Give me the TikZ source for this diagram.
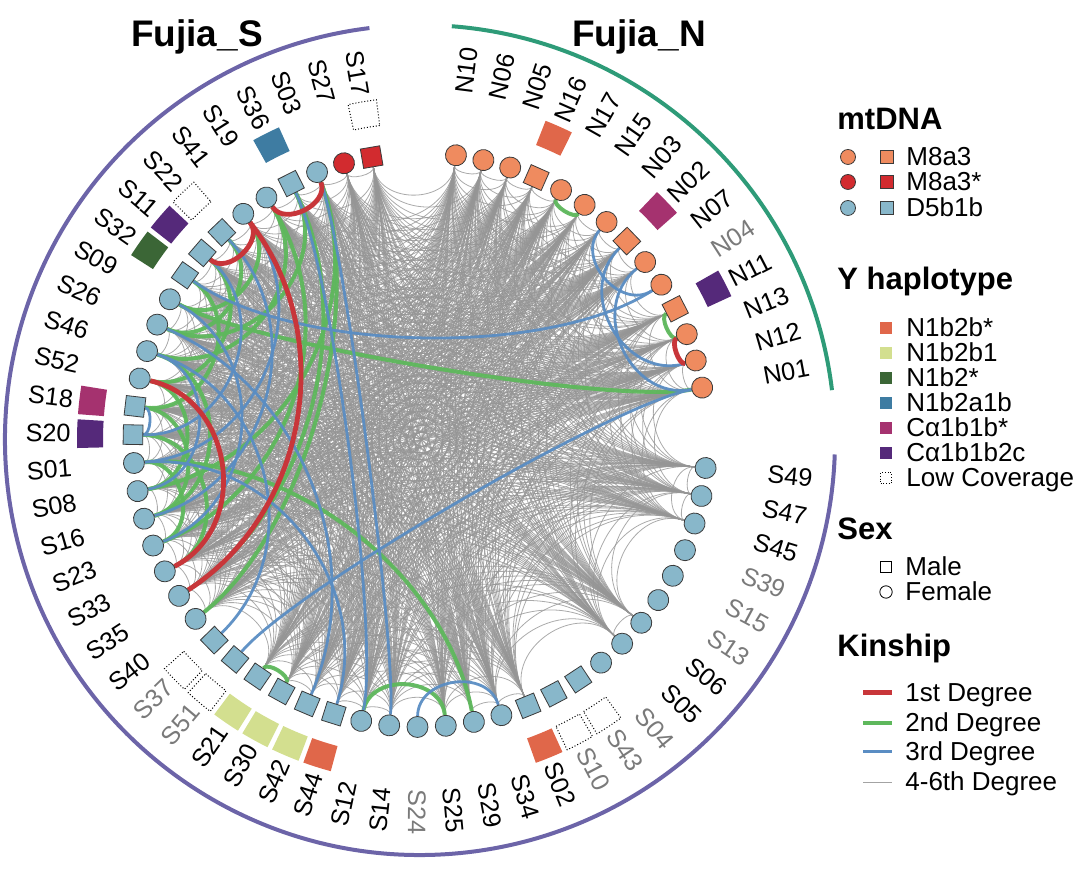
\documentclass[tikz,border=0pt]{standalone}
\usepackage{fontspec}
\setmainfont{Liberation Sans}
\usetikzlibrary{calc}
\pgfdeclarelayer{bgl}
\pgfdeclarelayer{midl}
\pgfsetlayers{bgl,midl,main}

\definecolor{cM}{HTML}{EF8B5F}
\definecolor{cMs}{HTML}{D22B2F}
\definecolor{cD}{HTML}{88B7CA}
\definecolor{yA}{HTML}{E0674A}
\definecolor{yB}{HTML}{D3DF8F}
\definecolor{yC}{HTML}{3B6636}
\definecolor{yD}{HTML}{3E7CA2}
\definecolor{yE}{HTML}{A5326F}
\definecolor{yF}{HTML}{55297A}
\definecolor{k1}{HTML}{C8363A}
\definecolor{k2}{HTML}{5EB85C}
\definecolor{k3}{HTML}{5A8DC3}
\definecolor{k4}{HTML}{A3A3A3}
\definecolor{kg}{HTML}{959595}
\definecolor{arcS}{HTML}{6C64A8}
\definecolor{arcN}{HTML}{2E9B78}
\definecolor{lblgray}{HTML}{7A7A7A}
\definecolor{outl}{HTML}{3A3A3A}

\tikzset{
  cnode/.style={circle, draw=outl, line width=0.4pt, minimum size=10.5pt, inner sep=0pt},
  snode/.style={rectangle, draw=outl, line width=0.4pt, minimum size=9.8pt, inner sep=0pt},
  lbl/.style={font=\fontsize{12.6}{14}\selectfont, inner sep=0pt},
  ttl/.style={font=\fontsize{15.5}{17}\selectfont\bfseries, inner sep=0pt},
  big/.style={font=\fontsize{18.5}{20}\selectfont\bfseries, inner sep=0pt},
  itm/.style={font=\fontsize{13}{15}\selectfont, inner sep=0pt},
  gedge/.style={draw=kg, line width=0.4pt, opacity=0.8},
  e1/.style={draw=k1, line width=2.4pt},
  e2/.style={draw=k2, line width=2pt, opacity=0.95},
  e3/.style={draw=k3, line width=1.4pt, opacity=0.95},
  lk1/.style={draw=k1, line width=2.5pt},
  lk2/.style={draw=k2, line width=2pt},
  lk3/.style={draw=k3, line width=1.5pt},
  lk4/.style={draw=k4, line width=0.4pt},
  lowcell/.style={draw=black, densely dotted, line width=0.5pt},
}

\def\ynone{none}
\def\ylow{low}

% #1,#2 node names, #3 style, #4 = 1 flatten long links, 0 = pure orthogonal arcs
\newcommand\kedge[4]{%
  \pgfmathsetmacro\kA{\csname kang#1\endcsname}%
  \pgfmathsetmacro\kB{\csname kang#2\endcsname}%
  \pgfmathsetmacro\kD{abs(\kA-\kB)}%
  \pgfmathsetmacro\kD{\kD>180 ? 360-\kD : \kD}%
  \pgfmathsetmacro\kT{tan((180-\kD)/4)}%
  \pgfmathsetmacro\kS{(\kD>90)&&(#4==1) ? max(0.4,1-0.6*(\kD-90)/60) : 1}%
  \pgfmathsetmacro\kR{287-191.3*(1-\kT*\kT)*\kS}%
  \draw[#3] (#1) .. controls (\kA:\kR) and (\kB:\kR) .. (#2);%
}

\begin{document}
\begin{tikzpicture}[x=0.5pt, y=0.5pt]
\useasboundingbox (-420,-430) rectangle (660,440);

% outer group arcs
\draw[arcS, line width=2pt] (97:415) arc[start angle=97, end angle=358, radius=415];
\draw[arcN, line width=2pt] (6.9:415) arc[start angle=6.9, end angle=85.6, radius=415];

% nodes, labels and Y cells
\foreach \nm/\slt/\shp/\fc/\gd/\yc [count=\j from 0] in {
N10/0/c/cM/1/none, N06/1/c/cM/1/none, N05/2/c/cM/1/none, N16/3/s/cM/1/yA,
N17/4/c/cM/1/none, N15/5/c/cM/1/none, N03/6/c/cM/1/none, N02/7/s/cM/1/yE,
N07/8/c/cM/1/none, N04/9/c/cM/0/none, N11/10/s/cM/1/yF, N13/11/c/cM/1/none,
N12/12/c/cM/1/none, N01/13/c/cM/1/none,
S49/16/c/cD/1/none, S47/17/c/cD/1/none, S45/18/c/cD/1/none, S39/19/c/cD/0/none,
S15/20/c/cD/0/none, S13/21/c/cD/0/none, S06/22/c/cD/1/none, S05/23/c/cD/1/none,
S04/24/c/cD/0/none, S43/25/s/cD/0/low, S10/26/s/cD/0/low, S02/27/s/cD/1/yA,
S34/28/c/cD/1/none, S29/29/c/cD/1/none, S25/30/c/cD/1/none, S24/31/c/cD/0/none,
S14/32/c/cD/1/none, S12/33/c/cD/1/none, S44/34/s/cD/1/yA, S42/35/s/cD/1/yB,
S30/36/s/cD/1/yB, S21/37/s/cD/1/yB, S51/38/s/cD/0/low, S37/39/s/cD/0/low,
S40/40/c/cD/1/none, S35/41/c/cD/1/none, S33/42/c/cD/1/none, S23/43/c/cD/1/none,
S16/44/c/cD/1/none, S08/45/c/cD/1/none, S01/46/c/cD/1/none, S20/47/s/cD/1/yF,
S18/48/s/cD/1/yE, S52/49/c/cD/1/none, S46/50/c/cD/1/none, S26/51/c/cD/1/none,
S09/52/c/cD/1/none, S32/53/s/cD/1/yC, S11/54/s/cD/1/yF, S22/55/s/cD/1/low,
S41/56/c/cD/1/none, S19/57/c/cD/1/none, S36/58/s/cD/1/yD, S03/59/c/cD/1/none,
S27/60/c/cMs/1/none, S17/61/s/cMs/1/low}{
  \pgfmathsetmacro\ang{\slt<14 ? 82.8-5.56*\slt : -5.6-5.66*(\slt-16)}
  \expandafter\xdef\csname kang\nm\endcsname{\ang}
  \expandafter\xdef\csname knm\j\endcsname{\nm}
  \expandafter\xdef\csname kgood\j\endcsname{\gd}
  \node[\shp node, fill=\fc, rotate=\ang] (\nm) at (\ang:287) {};
  \ifnum\gd=1 \def\lcol{black}\else \def\lcol{lblgray}\fi
  \pgfmathtruncatemacro\lft{\ang<-94 ? 1 : 0}
  \ifnum\lft=1
    \pgfmathsetmacro\kRot{\ang+180}
    \node[lbl, text=\lcol, rotate=\kRot, anchor=east] (L\nm) at (\ang:349) {\nm};
  \else
    \node[lbl, text=\lcol, rotate=\ang, anchor=west] (L\nm) at (\ang:349) {\nm};
  \fi
  \pgfmathsetmacro\cA{\ang-2.4}
  \pgfmathsetmacro\cB{\ang+2.4}
  \ifx\yc\ynone\else
    \ifx\yc\ylow
      \path[lowcell] (\cA:317) arc[start angle=\cA, end angle=\cB, radius=317] -- (\cB:343) arc[start angle=\cB, end angle=\cA, radius=343] -- cycle;
    \else
      \path[fill=\yc] (\cA:317) arc[start angle=\cA, end angle=\cB, radius=317] -- (\cB:343) arc[start angle=\cB, end angle=\cA, radius=343] -- cycle;
    \fi
  \fi
}

% 4-6th degree links
\begin{pgfonlayer}{bgl}
\pgfmathsetseed{2024}
\foreach \i in {0,...,58}{%
  \pgfmathtruncatemacro\jst{\i+1}%
  \foreach \j in {\jst,...,59}{%
    \ifnum\csname kgood\i\endcsname\csname kgood\j\endcsname=11
      \pgfmathtruncatemacro\kr{rnd<0.85 ? 1 : 0}%
      \ifnum\kr=1
        \edef\kni{\csname knm\i\endcsname}%
        \edef\knj{\csname knm\j\endcsname}%
        \kedge{\kni}{\knj}{gedge}{0}%
      \fi
    \fi
  }%
}
\end{pgfonlayer}

% close kinship links
\begin{pgfonlayer}{midl}
\foreach \eu/\ev in {S26/S36, S46/S19, S22/S26, S32/S18, S11/S52, S18/S16,
  S20/S33, S08/S52, S16/S46, S23/S01, S09/S41, S03/S40, S36/S35, S19/S23,
  S03/S08, S01/S29, S21/S30, S12/S25, N01/S09, N17/N15, N11/N13}{
  \kedge{\eu}{\ev}{e2}{1}
}
\foreach \eu/\ev in {S18/S20, N04/S32, N01/S51, S24/S34, S03/S14, S36/S12,
  S01/S44, S26/S42, N03/N04, N02/N12, N07/N01, S46/S08, S22/S16, S09/S23,
  S41/S01, S37/S46, S11/S20}{
  \kedge{\eu}{\ev}{e3}{1}
}
\foreach \eu/\ev in {S03/S19, S41/S11, S41/S35, S52/S33, N13/N12}{
  \kedge{\eu}{\ev}{e1}{1}
}
\end{pgfonlayer}

% legend and titles (image coordinates)
\begin{scope}[shift={(-420,440)}, y=-0.5pt]
  \node[big, anchor=base] (TS) at (197,47) {Fujia\_S};
  \node[big, anchor=base] (TN) at (639,47) {Fujia\_N};

  \node[ttl, anchor=base west] (Tmt) at (837,130) {mtDNA};
  \foreach \lgy/\lgc/\lgt [count=\q] in {157/cM/M8a3, 182/cMs/M8a3*, 208/cD/D5b1b}{
    \node[circle, draw=outl, fill=\lgc, minimum size=7.5pt, inner sep=0pt, line width=0.4pt] (LmC\q) at (848,\lgy) {};
    \node[rectangle, draw=outl, fill=\lgc, minimum size=6.2pt, inner sep=0pt, line width=0.4pt] (LmS\q) at (887,\lgy) {};
    \node[itm, anchor=base west] (LmT\q) at (906,\lgy+9) {\lgt};
  }

  \node[ttl, anchor=base west] (Ty) at (837,290) {Y haplotype};
  \foreach \lgy/\lgc/\lgt [count=\q] in {328/yA/N1b2b*, 353/yB/N1b2b1, 378/yC/N1b2*, 403/yD/N1b2a1b, 428/yE/Cα1b1b*, 453/yF/Cα1b1b2c}{
    \node[rectangle, fill=\lgc, minimum size=6pt, inner sep=0pt] (LyS\q) at (886,\lgy) {};
    \node[itm, anchor=base west] (LyT\q) at (906,\lgy+9) {\lgt};
  }
  \node[rectangle, draw=black, densely dotted, line width=0.4pt, minimum size=5.5pt, inner sep=0pt] (LyS7) at (886,478) {};
  \node[itm, anchor=base west] (LyT7) at (906,487) {Low Coverage};

  \node[ttl, anchor=base west] (Tsx) at (837,540) {Sex};
  \node[rectangle, draw=black, line width=0.4pt, minimum size=5.5pt, inner sep=0pt] (LsM) at (886,567) {};
  \node[itm, anchor=base west] (LsMT) at (905,576) {Male};
  \node[circle, draw=black, line width=0.4pt, minimum size=6.2pt, inner sep=0pt] (LsF) at (886,592) {};
  \node[itm, anchor=base west] (LsFT) at (905,601) {Female};

  \node[ttl, anchor=base west] (Tk) at (837,657) {Kinship};
  \foreach \lgy/\lgs/\lgt [count=\q] in {693/lk1/1st Degree, 723/lk2/2nd Degree, 752/lk3/3rd Degree, 782/lk4/4-6th Degree}{
    \coordinate (Ka\q) at (863,\lgy);
    \coordinate (Kb\q) at (892,\lgy);
    \draw[\lgs] (Ka\q) -- (Kb\q);
    \node[itm, anchor=base west] (LkT\q) at (905,\lgy+9) {\lgt};
  }
\end{scope}
\end{tikzpicture}
\end{document}
